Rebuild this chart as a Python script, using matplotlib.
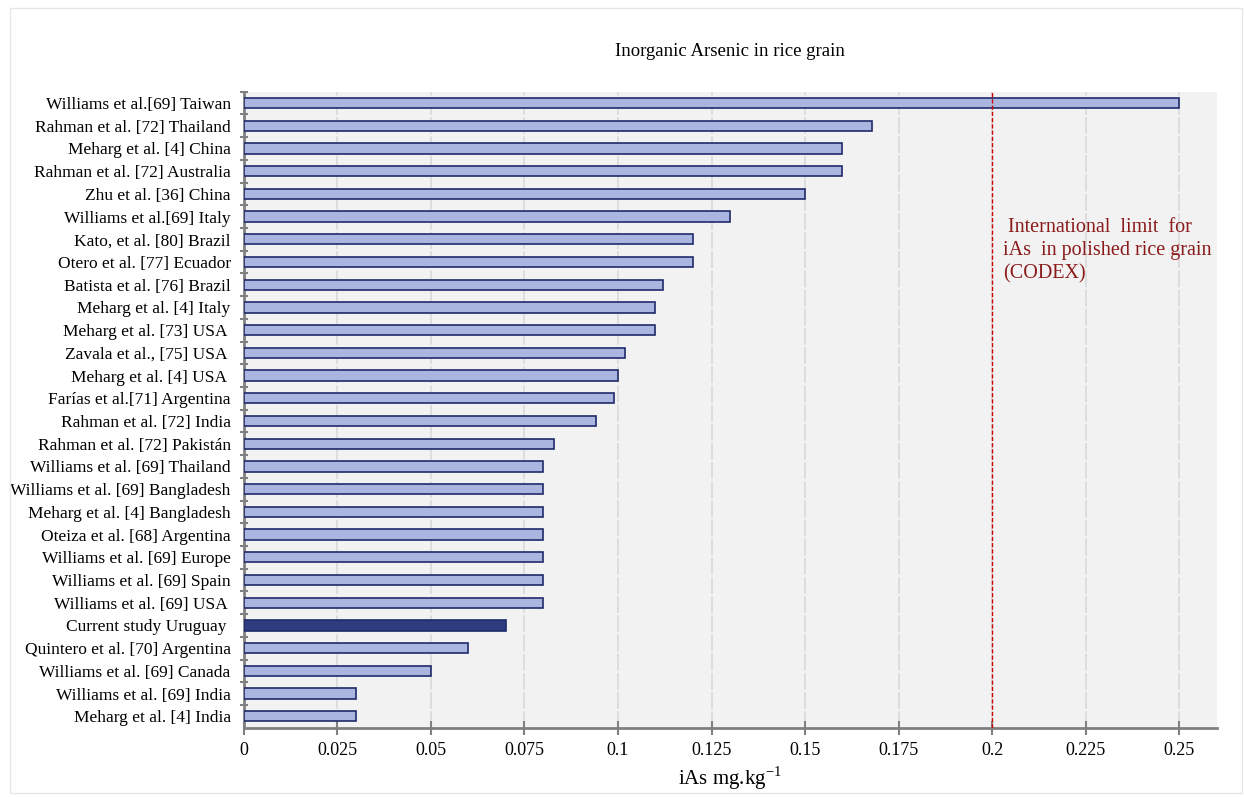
import matplotlib
matplotlib.use("Agg")
import matplotlib.pyplot as plt
import numpy as np
from matplotlib.patches import Rectangle

labels = [
    "Williams et al.[69] Taiwan",
    "Rahman et al. [72] Thailand",
    "Meharg et al. [4] China",
    "Rahman et al. [72] Australia",
    "Zhu et al. [36] China",
    "Williams et al.[69] Italy",
    "Kato, et al. [80] Brazil",
    "Otero et al. [77] Ecuador",
    "Batista et al. [76] Brazil",
    "Meharg et al. [4] Italy",
    "Meharg et al. [73] USA ",
    "Zavala et al., [75] USA ",
    "Meharg et al. [4] USA ",
    "Farías et al.[71] Argentina",
    "Rahman et al. [72] India",
    "Rahman et al. [72] Pakistán",
    "Williams et al. [69] Thailand",
    "Williams et al. [69] Bangladesh",
    "Meharg et al. [4] Bangladesh",
    "Oteiza et al. [68] Argentina",
    "Williams et al. [69] Europe",
    "Williams et al. [69] Spain",
    "Williams et al. [69] USA ",
    "Current study Uruguay ",
    "Quintero et al. [70] Argentina",
    "Williams et al. [69] Canada",
    "Williams et al. [69] India",
    "Meharg et al. [4] India",
]
values = [0.25, 0.168, 0.16, 0.16, 0.15, 0.13, 0.12, 0.12, 0.112, 0.11, 0.11,
          0.102, 0.10, 0.099, 0.094, 0.083, 0.08, 0.08, 0.08, 0.08, 0.08, 0.08,
          0.08, 0.07, 0.06, 0.05, 0.03, 0.03]
highlight = "Current study Uruguay "
xticks = [0, 0.025, 0.05, 0.075, 0.1, 0.125, 0.15, 0.175, 0.2, 0.225, 0.25]
xtick_labels = ["0", "0.025", "0.05", "0.075", "0.1", "0.125", "0.15", "0.175", "0.2", "0.225", "0.25"]
limit = 0.2

plt.rcParams['font.family'] = ['Liberation Serif', 'DejaVu Serif']

fig = plt.figure(figsize=(12.44, 7.97), dpi=100)
fig.patches.append(Rectangle((0.008, 0.005), 0.99, 0.985, transform=fig.transFigure,
                             fill=False, edgecolor="#e6e6e6", linewidth=1))
ax = fig.add_axes([0.196, 0.087, 0.782, 0.798])
ax.set_facecolor("#f2f2f2")

n = len(labels)
ypos = np.arange(n)[::-1]
colors = ["#2f3c80" if l == highlight else "#aab6e0" for l in labels]
ax.barh(ypos, values, height=0.45, color=colors, edgecolor="#1f2a6b", linewidth=1.2, zorder=3)

ax.set_xlim(0, 0.26)
ax.set_ylim(-0.5, n - 0.55)
ax.set_yticks(ypos)
ax.set_yticklabels(labels, fontsize=12.5)
ax.tick_params(axis='y', which='major', length=0, pad=9.5)
ax.set_yticks(np.arange(n) + 0.5, minor=True)
ax.tick_params(axis='y', which='minor', length=6, width=1.5, color="#808080", direction='inout')

ax.set_xticks(xticks)
ax.set_xticklabels(xtick_labels, fontsize=13)
ax.tick_params(axis='x', which='major', length=10, width=1.5, color="#808080", direction='inout', pad=5)

for x in xticks[1:]:
    ax.axvline(x, color="#d9d9d9", linestyle=(0, (10, 1.5)), linewidth=1.2, zorder=1)

for s in ["top", "right"]:
    ax.spines[s].set_visible(False)
for s in ["left", "bottom"]:
    ax.spines[s].set_color("#808080")
    ax.spines[s].set_linewidth(2)

ax.axvline(limit, color="#cc0000", linestyle=(0, (3, 1.5)), linewidth=1.0, zorder=4)
ax.text(limit + 0.003, 21.95, " International  limit  for\niAs  in polished rice grain\n(CODEX)",
        color="#8b1a1a", fontsize=14.5, va="top", ha="left", linespacing=1.3)

ax.set_xlabel("iAs mg.kg$^{\\mathregular{-1}}$", fontsize=15, labelpad=4)
fig.text(0.587, 0.935, "Inorganic Arsenic in rice grain", ha="center", va="center", fontsize=13.5)

fig.savefig("out.png", dpi=100)
